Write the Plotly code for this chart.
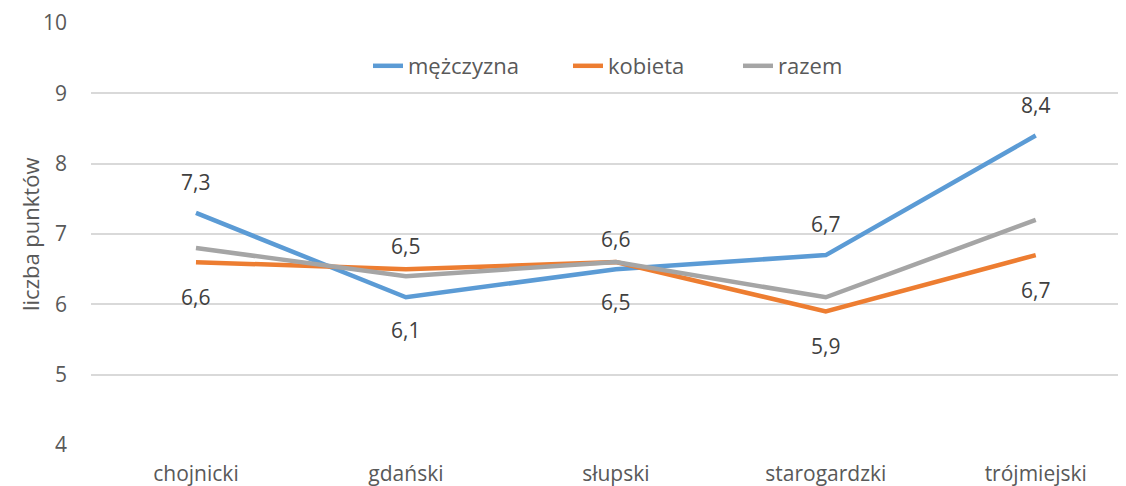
import plotly.graph_objects as go

categories = ["chojnicki", "gdański", "słupski", "starogardzki", "trójmiejski"]
mezczyzna = [7.3, 6.1, 6.5, 6.7, 8.4]
kobieta = [6.6, 6.5, 6.6, 5.9, 6.7]
razem = [6.8, 6.4, 6.6, 6.1, 7.2]
y_ticks = [4, 5, 6, 7, 8, 9, 10]

# label placement: +1 above, -1 below
mezczyzna_label_side = [1, -1, -1, 1, 1]
kobieta_label_side = [-1, 1, 1, -1, -1]

FONT = "Open Sans"
TXT = "#404040"
GREY = "#595959"
FS = 21

# page geometry (browser body has an 8px margin)
BODY = 8
PLOT_L, PLOT_R, PLOT_T, PLOT_B = 91, 1126, 23, 445
W, H = 1126 - BODY, 486 - BODY
PW, PH = PLOT_R - PLOT_L, PLOT_B - PLOT_T


def px(x):
    return (x - PLOT_L) / PW


def py(y):
    return (PLOT_B - y) / PH


fig = go.Figure()
fig.add_trace(go.Scatter(x=categories, y=mezczyzna, name="mężczyzna", mode="lines",
                         line=dict(color="#5b9bd5", width=4.5), legend="legend"))
fig.add_trace(go.Scatter(x=categories, y=kobieta, name="kobieta", mode="lines",
                         line=dict(color="#ed7d31", width=4.5), legend="legend2"))
fig.add_trace(go.Scatter(x=categories, y=razem, name="razem", mode="lines",
                         line=dict(color="#a5a5a5", width=4.5), legend="legend3"))

annotations = []
for c, v, s in zip(categories, mezczyzna, mezczyzna_label_side):
    annotations.append(dict(x=c, y=v, xref="x", yref="y", text=f"{v:.1f}".replace(".", ","),
                            showarrow=False, yshift=31 if s > 0 else -33,
                            font=dict(family=FONT, size=FS, color=TXT)))
for c, v, s in zip(categories, kobieta, kobieta_label_side):
    annotations.append(dict(x=c, y=v, xref="x", yref="y", text=f"{v:.1f}".replace(".", ","),
                            showarrow=False, yshift=23 if s > 0 else -35,
                            font=dict(family=FONT, size=FS, color=TXT)))
annotations.append(dict(x=px(30), y=py(235), xref="paper", yref="paper", text="liczba punktów",
                        showarrow=False, textangle=-90, xanchor="center", yanchor="middle",
                        font=dict(family=FONT, size=22, color=GREY)))


def leg(x_page):
    return dict(orientation="h", x=px(x_page), xanchor="left", y=py(66), yanchor="middle",
                font=dict(family=FONT, size=22, color=GREY), bgcolor="rgba(0,0,0,0)")


fig.update_layout(
    width=W, height=H,
    margin=dict(l=PLOT_L - BODY, r=0, t=PLOT_T - BODY, b=486 - PLOT_B),
    paper_bgcolor="white", plot_bgcolor="white",
    font=dict(family=FONT, size=FS, color=GREY),
    showlegend=True,
    legend=leg(368),
    legend2=leg(568),
    legend3=leg(738),
    annotations=annotations,
    xaxis=dict(range=[-0.5, 4.43], showgrid=False, zeroline=False, showline=False,
               ticks="", tickfont=dict(family=FONT, size=FS, color=GREY),
               ticklabelstandoff=14, automargin=False),
    yaxis=dict(range=[4, 10], tickvals=y_ticks, showgrid=True, gridcolor="#d9d9d9",
               gridwidth=1.5, zeroline=False, showline=False, ticks="",
               tickfont=dict(family=FONT, size=FS, color=GREY),
               ticklabelstandoff=23, automargin=False),
)

fig.write_html("out.html")
